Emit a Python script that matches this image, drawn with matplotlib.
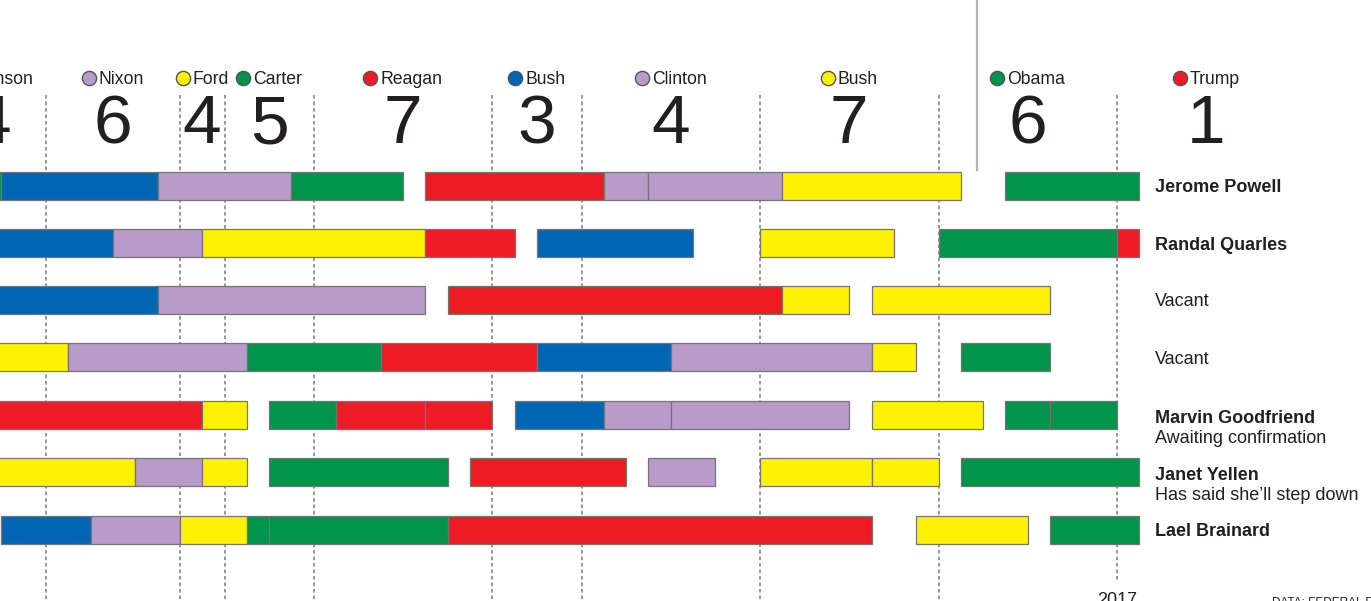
import matplotlib
matplotlib.use("Agg")
import matplotlib.pyplot as plt

# presidents, their colour and the board seats they filled
presidents = ["Johnson", "Nixon", "Ford", "Carter", "Reagan", "Bush", "Clinton", "Bush", "Obama", "Trump"]
pres_colors = ["B", "P", "Y", "G", "R", "B", "P", "Y", "G", "R"]
term_start = [1964.1, 1969, 1975, 1977, 1981, 1989, 1993, 2001, 2009, 2017]
term_end = [1969, 1975, 1977, 1981, 1989, 1993, 2001, 2009, 2017, 2025]
seats_filled = [4, 6, 4, 5, 7, 3, 4, 7, 6, 1]

# one list of (start year, end year, appointing president colour) per board seat
seat_powell = [(1966, 1967, "G"), (1967, 1974, "B"), (1974, 1980, "P"), (1980, 1985, "G"),
               (1986, 1994, "R"), (1994, 1996, "P"), (1996, 2002, "P"), (2002, 2010, "Y"),
               (2012, 2018, "G")]
seat_quarles = [(1966, 1972, "B"), (1972, 1976, "P"), (1976, 1986, "Y"), (1986, 1990, "R"),
                (1991, 1998, "B"), (2001, 2007, "Y"), (2009, 2017, "G"), (2017, 2018, "R")]
seat_vacant1 = [(1966, 1974, "B"), (1974, 1986, "P"), (1987, 2002, "R"), (2002, 2005, "Y"),
                (2006, 2014, "Y")]
seat_vacant2 = [(1966, 1970, "Y"), (1970, 1978, "P"), (1978, 1984, "G"), (1984, 1991, "R"),
                (1991, 1997, "B"), (1997, 2006, "P"), (2006, 2008, "Y"), (2010, 2014, "G")]
seat_goodfriend = [(1966, 1976, "R"), (1976, 1978, "Y"), (1979, 1982, "G"), (1982, 1986, "R"),
                   (1986, 1989, "R"), (1990, 1994, "B"), (1994, 1997, "P"), (1997, 2005, "P"),
                   (2006, 2011, "Y"), (2012, 2014, "G"), (2014, 2017, "G")]
seat_yellen = [(1966, 1973, "Y"), (1973, 1976, "P"), (1976, 1978, "Y"), (1979, 1987, "G"),
               (1988, 1995, "R"), (1996, 1999, "P"), (2001, 2006, "Y"), (2006, 2009, "Y"),
               (2010, 2018, "G")]
seat_brainard = [(1967, 1971, "B"), (1971, 1975, "P"), (1975, 1978, "Y"), (1978, 1979, "G"),
                 (1979, 1987, "G"), (1987, 2006, "R"), (2008, 2013, "Y"), (2014, 2018, "G")]

seats = [seat_powell, seat_quarles, seat_vacant1, seat_vacant2, seat_goodfriend, seat_yellen, seat_brainard]
seat_names = ["Jerome Powell", "Randal Quarles", "Vacant", "Vacant", "Marvin Goodfriend", "Janet Yellen",
              "Lael Brainard"]
seat_bold = [True, True, False, False, True, True, True]
seat_notes = ["", "", "", "", "Awaiting confirmation", "Has said she\u2019ll step down", ""]

colors = {"B": "#0066b3", "P": "#b99bc9", "Y": "#fff200", "G": "#00934a", "R": "#ed1c24"}

# layout: x in years, y in pixels from the top
PX = 22.3125  # pixels per year
X0 = 1969 - 46 / PX
W, H = 1371, 601
row_y = [186, 243, 300, 357, 415, 472, 530]
FONT = ["Liberation Sans", "DejaVu Sans"]

fig = plt.figure(figsize=(W / 100, H / 100), dpi=100)
ax = fig.add_axes([0, 0, 1, 1])
ax.set_xlim(X0, X0 + W / PX)
ax.set_ylim(H, 0)
ax.axis("off")

# dotted lines at each change of president
for yr in term_start[1:]:
    bottom = 582 if yr == 2017 else H
    ax.plot([yr, yr], [95, bottom], color="#8f8f8f", lw=1.3, ls=(0, (2, 1.6)), zorder=1)

# grey marker line
ax.plot([X0 + 977 / PX] * 2, [0, 170], color="#b3b3b3", lw=1.6, zorder=1)

# seat bars
for y, segs in zip(row_y, seats):
    for s, e, c in segs:
        ax.barh(y, e - s, left=s, height=28, color=colors[c], edgecolor="#747474",
                linewidth=0.9, zorder=2)

# seat labels on the right
for y, name, bold, note in zip(row_y, seat_names, seat_bold, seat_notes):
    yb = y + 6.5 if not note else y + 8
    ax.text(X0 + 1155 / PX, yb, name, fontsize=13, family=FONT, va="baseline", ha="left",
            fontweight="bold" if bold else "normal", color="#231f20")
    if note:
        ax.text(X0 + 1155 / PX, yb + 20, note, fontsize=13, family=FONT, va="baseline", ha="left",
                color="#231f20")

# president headers: big count and name with colour dot
fig.canvas.draw()
renderer = fig.canvas.get_renderer()
for name, c, s, e, n in zip(presidents, pres_colors, term_start, term_end, seats_filled):
    mid = (s + e) / 2
    ax.text(mid, 143, str(n), fontsize=50, family=FONT, fontweight="normal",
            ha="center", va="baseline", color="#231f20")
    t = ax.text(mid, 84, name, fontsize=12.7, family=FONT, ha="left", va="baseline", color="#231f20")
    w = t.get_window_extent(renderer).width
    left = mid - (17 + w) / 2 / PX
    t.set_x(left + 17 / PX)
    ax.scatter([left + 7 / PX], [78], s=105, color=colors[c], edgecolor="#555555", linewidth=1.0,
               zorder=3)

ax.text(2017, 605, "2017", fontsize=13, family=FONT, ha="center", va="baseline", color="#231f20")
ax.text(X0 + 1272 / PX, 606, "DATA: FEDERAL RESERVE", fontsize=8.5, family=FONT, ha="left",
        va="baseline", color="#231f20")

fig.savefig("out.png", dpi=100)
